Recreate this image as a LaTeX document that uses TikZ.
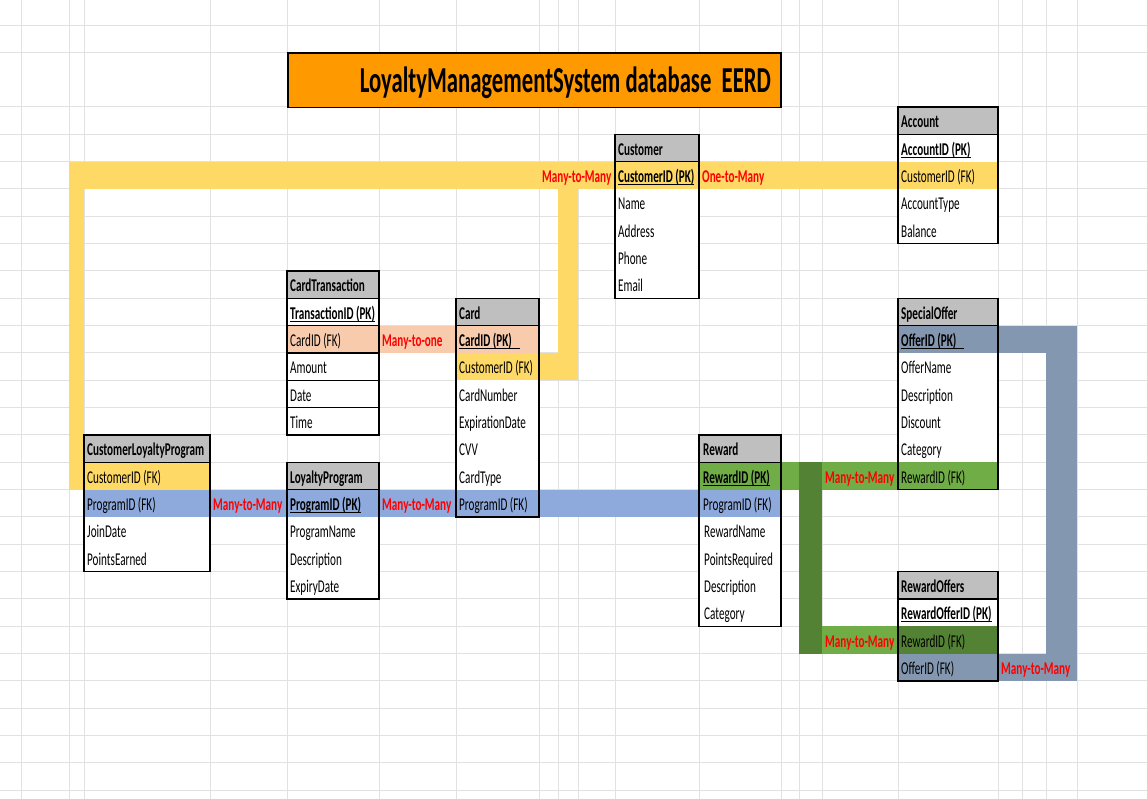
\documentclass[tikz,border=0pt]{standalone}
\usepackage{fontspec}
\setmainfont{Carlito}[FakeStretch=0.62]
\definecolor{gridc}{HTML}{E1E1E1}
\definecolor{yellowc}{HTML}{FFD966}
\definecolor{salmonc}{HTML}{F8CBAD}
\definecolor{bluec}{HTML}{8EA9DB}
\definecolor{slatec}{HTML}{8497B0}
\definecolor{lgreen}{HTML}{70AD47}
\definecolor{dgreen}{HTML}{548235}
\definecolor{hdrgray}{HTML}{BFBFBF}
\definecolor{titleor}{HTML}{FF9900}
\definecolor{relred}{HTML}{FF0000}
\newcommand\ulx[2][0pt]{\setbox0\hbox{#2\hspace{#1}}\rlap{\rule[-2.6pt]{\wd0}{1.1pt}}\box0}
\newcommand\entbox[4]{%
  \fill[white] (#1,#3) rectangle (#2,#4);
  \fill[hdrgray] (#1,#3) rectangle (#2,#3+1);}
\newcommand\entborder[4]{%
  \draw[boxline] (#1,#3) rectangle (#2,#4);
  \draw[boxline] (#1,#3+1) -- (#2,#3+1);}
\begin{document}
\begin{tikzpicture}[x=1pt,y=-27.33pt,
  gridline/.style={draw=gridc,line width=1pt},
  boxline/.style={draw=black,line width=1.5pt},
  txt/.style={anchor=base west,inner sep=0pt,xshift=3pt,yshift=6.5pt,font=\fontsize{18}{20}\selectfont},
  hdr/.style={txt,font=\fontsize{18}{20}\selectfont\bfseries},
  rel/.style={txt,font=\fontsize{18}{20}\selectfont\bfseries,text=relred}]
\useasboundingbox (0,-3.915) rectangle (1147,25.32);
\fill[white] (0,-3.915) rectangle (1147,25.32);
% grid
\foreach \r in {-3,-2,0,1,...,25} \draw[gridline] (0,\r) -- (1147,\r);
\foreach \c in {21,69,84,210,287,379,456,539,558,578,615,699,781,799,822,898,998,1022,1046,1077}
  \draw[gridline] (\c,-3.915) -- (\c,25.32);
% entity backgrounds
\entbox{615}{699}{1}{7}
\entbox{898}{998}{0}{5}
\entbox{287}{379}{6}{12}
\entbox{456}{539}{7}{15}
\entbox{84}{210}{12}{17}
\entbox{287}{379}{13}{18}
\entbox{699}{781}{12}{19}
\entbox{898}{998}{7}{14}
\entbox{898}{998}{17}{21}
% relationship bands
\fill[yellowc] (69,2) rectangle (998,3);
\fill[yellowc] (558,2) rectangle (578,10);
\fill[yellowc] (456,9) rectangle (578,10);
\fill[yellowc] (69,2) rectangle (84,14);
\fill[yellowc] (84,13) rectangle (210,14);
\fill[salmonc] (287,8) rectangle (539,9);
\fill[bluec] (84,14) rectangle (781,15);
\fill[lgreen] (699,13) rectangle (998,14);
\fill[lgreen] (822,19) rectangle (898,20);
\fill[dgreen] (799,13) rectangle (822,20);
\fill[dgreen] (898,19) rectangle (998,20);
\fill[slatec] (898,8) rectangle (1077,9);
\fill[slatec] (1046,8) rectangle (1077,21);
\fill[slatec] (898,20) rectangle (1077,21);
% borders
\entborder{615}{699}{1}{7}
\entborder{898}{998}{0}{5}
\entborder{287}{379}{6}{12}
\foreach \r in {8,9,10,11} \draw[boxline] (287,\r) -- (379,\r);
\entborder{456}{539}{7}{15}
\entborder{84}{210}{12}{17}
\entborder{287}{379}{13}{18}
\entborder{699}{781}{12}{19}
\entborder{898}{998}{7}{14}
\entborder{898}{998}{17}{21}
% title
\node[draw=black,line width=1.5pt,fill=titleor,anchor=north west,minimum width=493pt,minimum height=54.66pt,inner sep=0pt] (title) at (287,-2) {};
\node[anchor=base east,inner sep=0pt,font=\fontsize{36.6}{40}\selectfont\bfseries] (titletext) at (771,-0.52) {LoyaltyManagementSystem database\ \ EERD};
% Customer
\node[hdr] (cusH) at (615,2) {Customer};
\node[hdr] (cus1) at (615,3) {\ulx{CustomerID (PK)}};
\node[txt] (cus2) at (615,4) {Name};
\node[txt] (cus3) at (615,5) {Address};
\node[txt] (cus4) at (615,6) {Phone};
\node[txt] (cus5) at (615,7) {Email};
% Account
\node[hdr] (accH) at (898,1) {Account};
\node[hdr] (acc1) at (898,2) {\ulx{AccountID (PK)}};
\node[txt] (acc2) at (898,3) {CustomerID (FK)};
\node[txt] (acc3) at (898,4) {AccountType};
\node[txt] (acc4) at (898,5) {Balance};
% CardTransaction
\node[hdr] (ctH) at (287,7) {CardTransaction};
\node[hdr] (ct1) at (287,8) {\ulx{TransactionID (PK)}};
\node[txt] (ct2) at (287,9) {CardID (FK)};
\node[txt] (ct3) at (287,10) {Amount};
\node[txt] (ct4) at (287,11) {Date};
\node[txt] (ct5) at (287,12) {Time};
% Card
\node[hdr] (cardH) at (456,8) {Card};
\node[hdr] (card1) at (456,9) {\ulx[8pt]{CardID (PK)}};
\node[txt] (card2) at (456,10) {CustomerID (FK)};
\node[txt] (card3) at (456,11) {CardNumber};
\node[txt] (card4) at (456,12) {ExpirationDate};
\node[txt] (card5) at (456,13) {CVV};
\node[txt] (card6) at (456,14) {CardType};
\node[txt] (card7) at (456,15) {ProgramID (FK)};
% CustomerLoyaltyProgram
\node[hdr] (clpH) at (84,13) {CustomerLoyaltyProgram};
\node[txt] (clp1) at (84,14) {CustomerID (FK)};
\node[txt] (clp2) at (84,15) {ProgramID (FK)};
\node[txt] (clp3) at (84,16) {JoinDate};
\node[txt] (clp4) at (84,17) {PointsEarned};
% LoyaltyProgram
\node[hdr] (lpH) at (287,14) {LoyaltyProgram};
\node[hdr] (lp1) at (287,15) {\ulx{ProgramID (PK)}};
\node[txt] (lp2) at (287,16) {ProgramName};
\node[txt] (lp3) at (287,17) {Description};
\node[txt] (lp4) at (287,18) {ExpiryDate};
% Reward
\node[hdr] (rwH) at (700,13) {Reward};
\node[hdr] (rw1) at (700,14) {\ulx{RewardID (PK)}};
\node[txt] (rw2) at (700,15) {ProgramID (FK)};
\node[txt] (rw3) at (701,16) {RewardName};
\node[txt] (rw4) at (701,17) {PointsRequired};
\node[txt] (rw5) at (701,18) {Description};
\node[txt] (rw6) at (701,19) {Category};
% SpecialOffer
\node[hdr] (soH) at (898,8) {SpecialOffer};
\node[hdr] (so1) at (898,9) {\ulx[8pt]{OfferID (PK)}};
\node[txt] (so2) at (898,10) {OfferName};
\node[txt] (so3) at (898,11) {Description};
\node[txt] (so4) at (898,12) {Discount};
\node[txt] (so5) at (898,13) {Category};
\node[txt] (so6) at (898,14) {RewardID (FK)};
% RewardOffers
\node[hdr] (roH) at (898,18) {RewardOffers};
\node[hdr] (ro1) at (898,19) {\ulx{RewardOfferID (PK)}};
\node[txt] (ro2) at (898,20) {RewardID (FK)};
\node[txt] (ro3) at (898,21) {OfferID (FK)};
% relationship labels
\node[rel] (l1) at (539,3) {Many-to-Many};
\node[rel] (l2) at (699,3) {One-to-Many};
\node[rel] (l3) at (379,9) {Many-to-one};
\node[rel] (l4) at (210,15) {Many-to-Many};
\node[rel] (l5) at (379,15) {Many-to-Many};
\node[rel] (l6) at (822,14) {Many-to-Many};
\node[rel] (l7) at (822,20) {Many-to-Many};
\node[rel] (l8) at (998,21) {Many-to-Many};
\end{tikzpicture}
\end{document}
